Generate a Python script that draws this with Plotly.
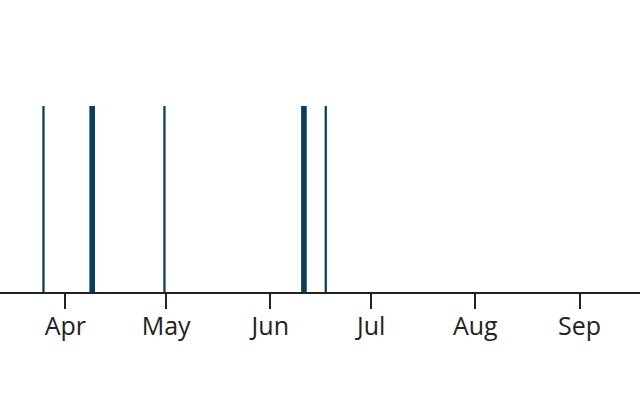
import plotly.graph_objects as go
import pandas as pd

# Data: event start dates, their length in days, and the count on each
event_start = ["2024-03-25", "2024-04-08", "2024-04-30", "2024-06-10", "2024-06-17"]
event_days = [1, 2, 1, 2, 1]
event_count = [1, 1, 1, 1, 1]
tick_months = ["2024-04-01", "2024-05-01", "2024-06-01", "2024-07-01", "2024-08-01", "2024-09-01"]
tick_labels = ["Apr", "May", "Jun", "Jul", "Aug", "Sep"]

DAY_MS = 86400000
GAP_DAYS = 0.32

starts = pd.to_datetime(event_start)
centers = [s + pd.Timedelta(days=d / 2) for s, d in zip(starts, event_days)]
widths = [(d - GAP_DAYS) * DAY_MS for d in event_days]

fig = go.Figure(
    go.Bar(
        x=centers,
        y=event_count,
        width=widths,
        marker=dict(color="#0b3d5e", line=dict(width=0)),
        hoverinfo="skip",
    )
)

fig.update_layout(
    width=640,
    height=400,
    margin=dict(l=0, r=0, t=106, b=108),
    paper_bgcolor="white",
    plot_bgcolor="white",
    showlegend=False,
    font=dict(family="Open Sans", size=25, color="#222222"),
)
fig.update_xaxes(
    type="date",
    range=["2024-03-12 13:40", "2024-09-19 00:00"],
    tickvals=tick_months,
    ticktext=tick_labels,
    ticks="outside",
    ticklen=15,
    tickwidth=2,
    tickcolor="#222222",
    ticklabelstandoff=-4,
    showline=True,
    linewidth=2,
    linecolor="#222222",
    showgrid=False,
    zeroline=False,
)
fig.update_yaxes(
    range=[0, 1],
    visible=False,
    showgrid=False,
    zeroline=False,
)

fig.write_html(
    "out.html",
    config={"displayModeBar": False},
    post_script="document.body.style.margin='0px';document.body.style.padding='0px';",
)
